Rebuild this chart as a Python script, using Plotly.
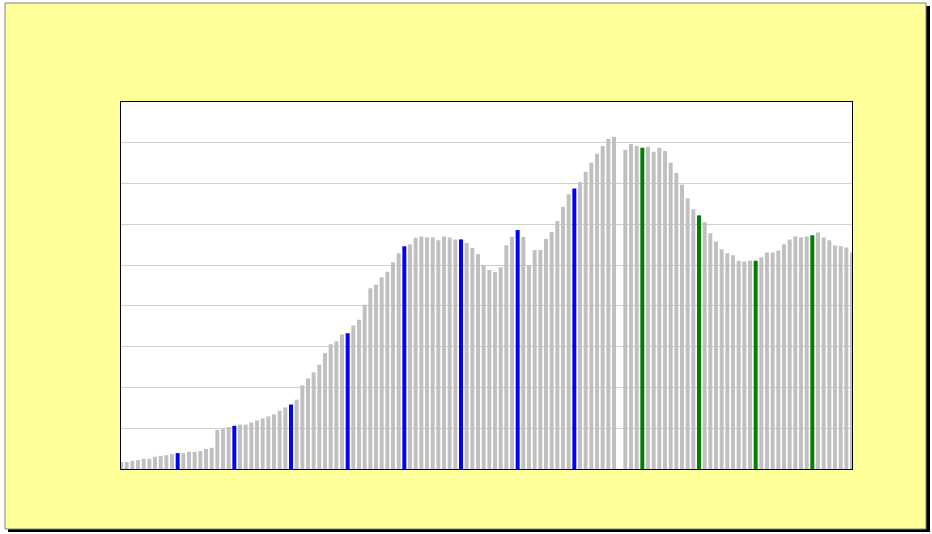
import plotly.graph_objects as go

# Bar values (gridline step = 100 units)
values = [
    17, 17, 20, 22, 25, 25, 30, 32, 34, 37,
    39, 39, 42, 42, 44, 49, 52, 96, 98, 103,
    106, 109, 109, 114, 119, 124, 129, 134, 143, 151,
    158, 170, 205, 222, 237, 256, 284, 306, 313, 330,
    333, 352, 366, 403, 443, 452, 470, 484, 507, 529,
    546, 551, 567, 570, 568, 568, 561, 570, 568, 563,
    563, 554, 542, 527, 500, 488, 483, 495, 549, 569,
    586, 569, 500, 537, 537, 564, 581, 608, 643, 674,
    688, 704, 729, 751, 773, 792, 810, 815, 0, 783,
    797, 792, 788, 790, 778, 788, 780, 751, 726, 697,
    664, 637, 622, 605, 578, 558, 539, 529, 524, 511,
    509, 511, 511, 519, 531, 531, 536, 551, 563, 570,
    568, 570, 573, 580, 568, 561, 548, 546, 543, 531,
]
positions = list(range(len(values)))
blue_idx = [10, 20, 30, 40, 50, 60, 70, 80]
green_idx = [92, 102, 112, 122]

colors = []
for i in positions:
    if i in blue_idx:
        colors.append("#0000FF")
    elif i in green_idx:
        colors.append("#008000")
    else:
        colors.append("#C0C0C0")

fig = go.Figure(go.Bar(
    x=positions, y=values, marker=dict(color=colors, line=dict(width=0)),
    cliponaxis=False, hoverinfo="skip",
))

W, H = 932, 534
ml, mr, mt, mb = 121, 80, 102, 65
pw, ph = W - ml - mr, H - mt - mb

def px_x(p):
    return (p - ml) / pw

def px_y(p):
    return (H - mb - p) / ph

shapes = [
    dict(type="rect", xref="paper", yref="paper", layer="below",
         x0=px_x(8), x1=px_x(930), y0=px_y(6), y1=px_y(532),
         fillcolor="black", line=dict(width=0)),
    dict(type="rect", xref="paper", yref="paper", layer="below",
         x0=px_x(5), x1=px_x(926), y0=px_y(3), y1=px_y(529),
         fillcolor="#FFFF99", line=dict(color="#808080", width=1)),
    dict(type="rect", xref="paper", yref="paper", layer="below",
         x0=0, x1=1, y0=0, y1=1,
         fillcolor="white", line=dict(width=0)),
]

fig.update_layout(
    width=W, height=H,
    margin=dict(l=ml, r=mr, t=mt, b=mb),
    paper_bgcolor="white", plot_bgcolor="white",
    bargap=0.3, showlegend=False,
    shapes=shapes,
    xaxis=dict(range=[0, 129], showticklabels=False, ticks="", showgrid=False,
               zeroline=False, showline=True, linecolor="black", linewidth=1,
               mirror=True, layer="below traces", fixedrange=True),
    yaxis=dict(range=[0, 900], dtick=100, showticklabels=False, ticks="",
               showgrid=True, gridcolor="#D0D0D0", gridwidth=1,
               zeroline=False, showline=True, linecolor="black", linewidth=1,
               mirror=True, layer="below traces", fixedrange=True),
)

fig.write_html(
    "out.html",
    config={"displayModeBar": False, "staticPlot": True},
    post_script="document.body.style.margin='0';document.body.style.overflow='hidden';",
)
